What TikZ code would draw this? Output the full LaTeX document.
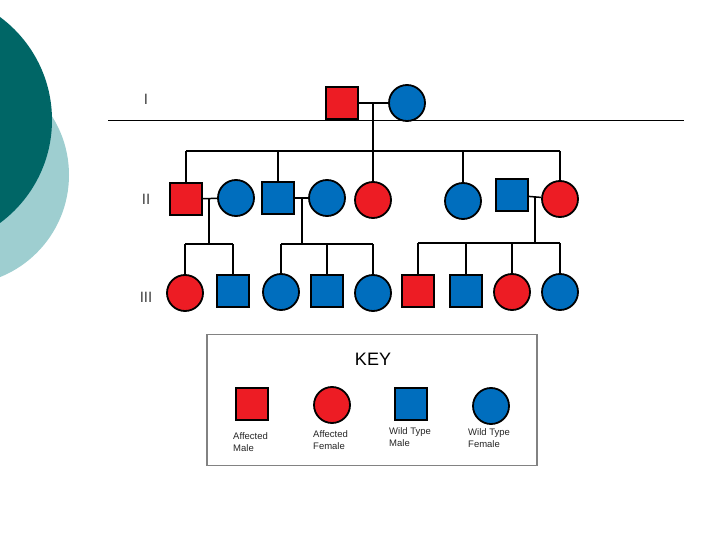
\documentclass[tikz,border=0pt]{standalone}
\usepackage{fontspec}
\setmainfont{Liberation Sans}
\definecolor{tealdark}{RGB}{0,102,102}
\definecolor{teallight}{RGB}{158,206,208}
\definecolor{affred}{RGB}{237,28,36}
\definecolor{wtblue}{RGB}{0,110,190}
\definecolor{keygray}{RGB}{130,130,130}
\tikzset{
  pmale/.style={draw=black, line width=1.8pt, rectangle, minimum size=32pt, inner sep=0pt},
  pfemale/.style={draw=black, line width=1.8pt, circle, minimum size=36pt, inner sep=0pt},
  aff/.style={fill=affred},
  wt/.style={fill=wtblue},
  link/.style={draw=black, line width=1.5pt},
  genlabel/.style={font=\fontsize{15}{15}\selectfont, text=black!75},
  keytext/.style={font=\fontsize{9.5}{12}\selectfont, align=left, anchor=north west, inner sep=0pt, text=black!85}
}
\begin{document}
\begin{tikzpicture}[x=1pt,y=-1pt]
\useasboundingbox (0,0) rectangle (720,540);
\begin{scope}
\clip (0,0) rectangle (720,540);
\fill[teallight] (-41,175) circle (110);
\fill[tealdark] (-76,120) circle (128);
\end{scope}
% rule
\draw[line width=1pt] (108,121) -- (684,121);
% generation labels
\node[genlabel] (gI) at (146,99) {I};
\node[genlabel] (gII) at (146,199) {II};
\node[genlabel] (gIII) at (146,297) {III};
% generation I
\node[pmale,aff] (q11) at (342,103) {};
\node[pfemale,wt] (c12) at (407,103) {};
% generation II
\node[pmale,aff] (q21) at (186,199) {};
\node[pfemale,wt] (c22) at (236,198) {};
\node[pmale,wt] (q23) at (278,198) {};
\node[pfemale,wt] (c24) at (327,198) {};
\node[pfemale,aff] (c25) at (373,200) {};
\node[pfemale,wt] (c26) at (463,201) {};
\node[pmale,wt] (q27) at (512,195) {};
\node[pfemale,aff] (c28) at (560,199) {};
% generation III
\node[pfemale,aff] (c31) at (185,293) {};
\node[pmale,wt] (q32) at (233,291) {};
\node[pfemale,wt] (c33) at (281,292) {};
\node[pmale,wt] (q34) at (327,291) {};
\node[pfemale,wt] (c35) at (373,293) {};
\node[pmale,aff] (q36) at (418,291) {};
\node[pmale,wt] (q37) at (466,291) {};
\node[pfemale,aff] (c38) at (512,292) {};
\node[pfemale,wt] (c39) at (560,292) {};
% junction coordinates
\coordinate (m1) at (373,103);
\coordinate (s1) at (373,151);
\coordinate (m2a) at (209,198);
\coordinate (s2a) at (209,244);
\coordinate (m2b) at (302,197);
\coordinate (s2b) at (302,244);
\coordinate (m2c) at (535,197);
\coordinate (s2c) at (535,243);
% generation I connectors
\draw[link] (q11) -- (c12);
\draw[link] (m1) -- (s1);
\draw[link] (q21.north |- s1) -- (c28.north |- s1);
\foreach \n in {q21,q23,c25,c26,c28} \draw[link] (\n.north |- s1) -- (\n.north);
% family a
\draw[link] (q21) -- (c22);
\draw[link] (m2a) -- (s2a);
\draw[link] (c31.north |- s2a) -- (q32.north |- s2a);
\foreach \n in {c31,q32} \draw[link] (\n.north |- s2a) -- (\n.north);
% family b
\draw[link] (q23) -- (c24);
\draw[link] (m2b) -- (s2b);
\draw[link] (c33.north |- s2b) -- (c35.north |- s2b);
\foreach \n in {c33,q34,c35} \draw[link] (\n.north |- s2b) -- (\n.north);
% family c
\draw[link] (q27) -- (c28);
\draw[link] (m2c) -- (s2c);
\draw[link] (q36.north |- s2c) -- (c39.north |- s2c);
\foreach \n in {q36,q37,c38,c39} \draw[link] (\n.north |- s2c) -- (\n.north);
% key
\node[draw=keygray, line width=1.2pt, minimum width=330pt, minimum height=131pt, inner sep=0pt] (keybox) at (372,400) {};
\node[font=\fontsize{18}{18}\selectfont] (keytitle) at (373,359) {KEY};
\node[pmale,aff] (kq1) at (252,404) {};
\node[pfemale,aff] (kc1) at (332,405) {};
\node[pmale,wt] (kq2) at (411,404) {};
\node[pfemale,wt] (kc2) at (491,406) {};
\node[keytext] (kt1) at (233,432) {Affected\\Male};
\node[keytext] (kt2) at (313,430) {Affected\\Female};
\node[keytext] (kt3) at (389,427) {Wild Type\\Male};
\node[keytext] (kt4) at (468,428) {Wild Type\\Female};
\end{tikzpicture}
\end{document}
